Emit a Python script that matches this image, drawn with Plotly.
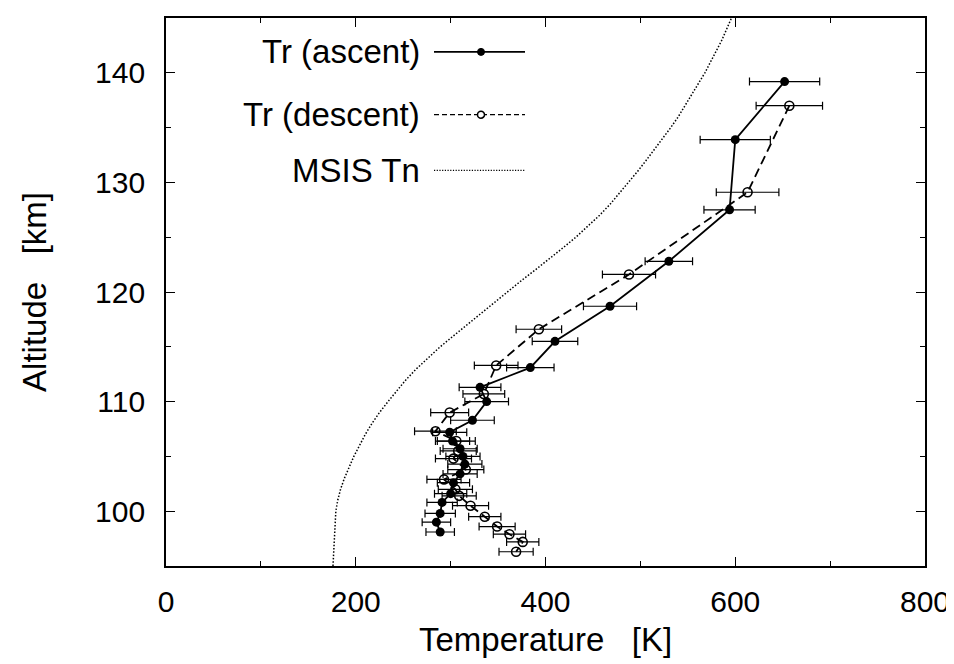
import plotly.graph_objects as go

# Ascent (filled circles, solid line)
asc_alt = [139.2, 133.9, 127.5, 122.8, 118.7, 115.5, 113.1, 111.3, 110.0, 108.3, 107.2,
           106.4, 105.7, 105.0, 104.3, 103.4, 102.6, 101.6, 100.8, 99.8, 99.0, 98.1]
asc_T = [652, 600, 594, 530, 468, 410, 384, 331, 338, 323, 299,
         302, 310, 313, 315, 310, 303, 300, 291, 289, 285, 289]
asc_err = [37, 37, 27, 25, 28, 24, 25, 22, 23, 23, 18,
           18, 18, 18, 18, 18, 17, 17, 16, 16, 15, 15]

# Descent (open circles, dashed line)
desc_alt = [137.0, 129.1, 121.6, 116.6, 113.3, 110.7, 109.0, 107.3, 106.4, 105.5, 104.8,
            103.8, 102.9, 102.0, 101.4, 100.5, 99.5, 98.6, 97.9, 97.2, 96.3]
desc_T = [657, 613, 488, 393, 348, 335, 299, 284, 306, 308, 303,
          316, 293, 305, 309, 321, 336, 349, 362, 376, 369]
desc_err = [35, 33, 28, 24, 23, 22, 20, 22, 20, 19, 19,
            19, 18, 18, 18, 19, 17, 19, 17, 17, 18]

# MSIS neutral temperature profile
msis_alt = [95, 96, 97, 98, 99, 100, 101, 102, 103, 104, 105, 106, 107, 108, 109, 110,
            111, 112, 113, 114, 115, 116, 117, 118, 119, 120, 121, 122, 123, 124, 125,
            126, 127, 128, 129, 130, 131, 132, 133, 134, 135, 136, 137, 138, 139, 140,
            141, 142, 143, 144, 145]
msis_T = [176, 176.5, 177, 177.5, 178, 179, 181, 184, 188, 193, 198, 204, 210, 217, 225, 234,
          243, 253, 264, 276, 289, 303, 317, 331, 345, 359, 374, 389, 404, 418, 432,
          445, 457, 468, 478, 488, 497, 506, 515, 524, 532, 540, 547, 554, 561, 568,
          574, 580, 586, 591, 596]

legend_names = ["Tr (ascent)", "Tr (descent)", "MSIS Tn"]
x_title = "Temperature   [K]"
y_title = "Altitude   [km]"

FONT = "Liberation Sans, Arial, Helvetica, sans-serif"
FS = 33      # key and axis titles
FS_TICK = 30 # tick labels

# plot-area frame in pixels
L, R, T, B = 158, 37, 8, 106
W, H = 954 - L - R, 664 - T - B

fig = go.Figure()

fig.add_trace(go.Scatter(
    x=msis_T, y=msis_alt, mode="lines",
    line=dict(color="black", width=1.5, dash="1.5px,1.8px"),
    showlegend=False, hoverinfo="skip"))

fig.add_trace(go.Scatter(
    x=desc_T, y=desc_alt, mode="lines+markers",
    line=dict(color="black", width=1.8, dash="9px,5px"),
    marker=dict(symbol="circle-open", size=9, color="black", line=dict(width=1.6)),
    error_x=dict(type="data", array=desc_err, visible=True, color="black", thickness=1.2, width=4),
    showlegend=False))

fig.add_trace(go.Scatter(
    x=asc_T, y=asc_alt, mode="lines+markers",
    line=dict(color="black", width=1.8),
    marker=dict(symbol="circle", size=9, color="black"),
    error_x=dict(type="data", array=asc_err, visible=True, color="black", thickness=1.2, width=4),
    showlegend=False))

# Gnuplot-style key: right-aligned text with line sample to the right
def px(xp):
    return (xp - L) / W
def py(yp):
    return (T + H - yp) / H

key_y = [42, 105, 161]
dashes = ["solid", "5px,3px", "1.2px,1.5px"]
widths = [1.8, 1.3, 1.2]
for name, ky, dsh, lw in zip(legend_names, key_y, dashes, widths):
    fig.add_annotation(x=px(414), y=py(ky), xref="paper", yref="paper", text=name,
                       showarrow=False, xanchor="right", yanchor="middle",
                       font=dict(family=FONT, size=FS, color="black"))
    fig.add_shape(type="line", xref="paper", yref="paper",
                  x0=px(426), x1=px(517), y0=py(ky), y1=py(ky),
                  line=dict(color="black", width=lw, dash=dsh))
fig.add_shape(type="circle", xref="paper", yref="paper", xsizemode="pixel", ysizemode="pixel",
              xanchor=px(473), yanchor=py(key_y[0]), x0=-3.5, x1=3.5, y0=-3.5, y1=3.5,
              fillcolor="black", line=dict(color="black", width=1))
fig.add_shape(type="circle", xref="paper", yref="paper", xsizemode="pixel", ysizemode="pixel",
              xanchor=px(473), yanchor=py(key_y[1]), x0=-3.5, x1=3.5, y0=-3.5, y1=3.5,
              fillcolor="white", line=dict(color="black", width=1.5))

# x-axis title as an annotation (placed close under the tick labels)
fig.add_annotation(x=0.5, y=py(632), xref="paper", yref="paper", text=x_title,
                   showarrow=False, xanchor="center", yanchor="middle",
                   font=dict(family=FONT, size=FS, color="black"))

axis_common = dict(
    showgrid=False, zeroline=False, showline=True, linecolor="black", linewidth=1.8,
    mirror="allticks", ticks="inside", ticklen=9, tickwidth=1.2, tickcolor="black",
    tickfont=dict(family=FONT, size=FS_TICK, color="black"),
)

fig.update_xaxes(range=[0, 800], dtick=200, tick0=0,
                 minor=dict(dtick=100, ticks="inside", ticklen=5, tickcolor="black", tickwidth=1.2),
                 ticklabelstandoff=8,
                 **axis_common)
fig.update_yaxes(range=[95, 145], dtick=10, tick0=100,
                 minor=dict(dtick=5, ticks="inside", ticklen=5, tickcolor="black", tickwidth=1.2),
                 title=dict(text=y_title, font=dict(family=FONT, size=FS, color="black"),
                            standoff=38),
                 ticklabelstandoff=13,
                 **axis_common)

fig.update_layout(
    width=954, height=664,
    margin=dict(l=L, r=R, t=T, b=B),
    paper_bgcolor="white", plot_bgcolor="white",
    font=dict(family=FONT, size=FS, color="black"),
)

fig.write_html("out.html")
